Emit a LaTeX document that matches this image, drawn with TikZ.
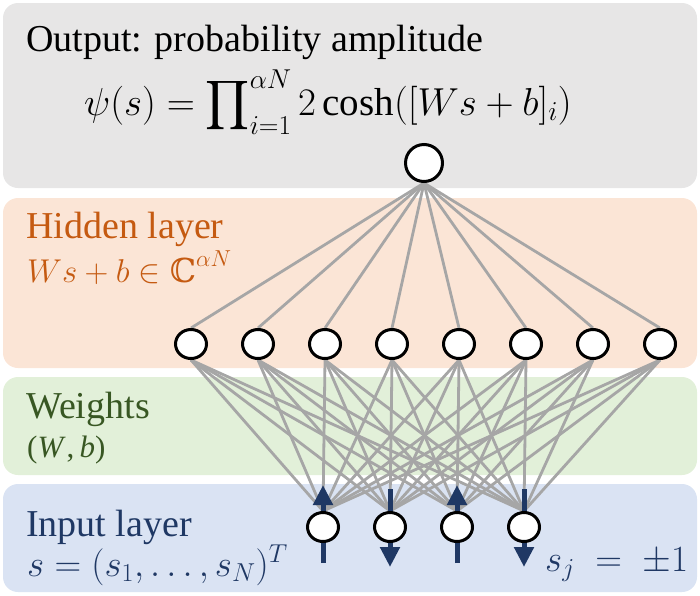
\RequirePackage{fix-cm}
\documentclass[tikz,border=0pt]{standalone}
\usepackage{amsmath}
\usepackage{fontspec}
\setmainfont{Liberation Serif}
\newfontfamily\dvserif{DejaVu Serif}
\usetikzlibrary{arrows.meta,shapes.geometric}
\pgfdeclarelayer{bg}\pgfdeclarelayer{edges}\pgfdeclarelayer{spins}
\pgfsetlayers{bg,edges,spins,main}
\definecolor{boxgray}{RGB}{231,230,230}
\definecolor{boxorange}{RGB}{251,229,214}
\definecolor{boxgreen}{RGB}{226,240,217}
\definecolor{boxblue}{RGB}{218,227,243}
\definecolor{txtorange}{RGB}{197,90,17}
\definecolor{txtgreen}{RGB}{56,87,35}
\definecolor{navy}{RGB}{31,56,100}
\definecolor{edgegray}{RGB}{166,166,166}
\newcommand{\bigprodop}{\mathop{\vcenter{\hbox{\resizebox*{44pt}{55pt}{$\displaystyle\prod$}}}}\nolimits}
\tikzset{
  layerbox/.style={rounded corners=15pt},
  outnode/.style={circle,draw=black,line width=3pt,fill=white,minimum size=37pt,inner sep=0pt},
  unit/.style={ellipse,draw=black,line width=3pt,fill=white,minimum width=31pt,minimum height=29pt,inner sep=0pt},
  edge/.style={draw=edgegray,line width=2.8pt},
  spin/.style={draw=navy,line width=5pt,-{Triangle[width=19pt,length=20pt]}},
  lbl/.style={anchor=base west,inner sep=0pt,font=\fontsize{38}{42}\selectfont},
  smalllbl/.style={anchor=base west,inner sep=0pt,font=\fontsize{31}{36}\selectfont},
}
\begin{document}
\begin{tikzpicture}[x=1pt,y=-1pt]
\useasboundingbox (0,0) rectangle (700,595);
\begin{pgfonlayer}{bg}
\fill[boxgray,layerbox] (3,3) rectangle (697,188);
\fill[boxorange,layerbox] (3,198) rectangle (697,368);
\fill[boxgreen,layerbox] (3,377) rectangle (697,475);
\fill[boxblue,layerbox] (3,484) rectangle (697,592);
\end{pgfonlayer}
% texts
\node[lbl] (t1) at (26,51) {Output: probability amplitude};
\node[lbl,font=\fontsize{39}{42}\selectfont,anchor=base west] (f1) at (84,115) {$\psi(s)=\bigprodop_{i=1}^{\alpha N}2\cosh([Ws+b]_i)$};
\node[lbl,text=txtorange] (t2) at (26,238) {Hidden layer};
\node[lbl,text=txtorange,font=\fontsize{33}{38}\selectfont,anchor=base west] (f2) at (27,282) {$Ws+b\in\mbox{\dvserif ℂ}^{\alpha N}$};
\node[lbl,text=txtgreen] (t3) at (26,418) {Weights};
\node[smalllbl,text=txtgreen] (f3) at (27,457) {(\textit{W}\kern1pt,\,\textit{b})};
\node[lbl,text=navy] (t4) at (26,536) {Input layer};
\node[lbl,text=navy,font=\fontsize{37}{40}\selectfont,anchor=base west] (f4) at (27,576) {$s=(s_1,\dots,s_N)^T$};
\node[lbl,text=navy,font=\fontsize{37}{42}\selectfont,anchor=base west] (f5) at (545,571) {$s_j\;=\;\pm1$};
% nodes
\node[outnode] (o) at (424,163) {};
\foreach \i in {1,...,8} \node[unit] (h\i) at ({191+67*(\i-1)},344) {};
\foreach \j in {1,...,4} \node[unit] (in\j) at ({323+67*(\j-1)},527) {};
\begin{pgfonlayer}{edges}
\foreach \i in {1,...,8} \draw[edge] (o.south) -- (h\i.north);
\foreach \i in {1,...,8} \foreach \j in {1,...,4} \draw[edge] (h\i.south) -- (in\j.north);
\end{pgfonlayer}
\begin{pgfonlayer}{spins}
\draw[spin] ([yshift=-36pt]in1.center) -- ([yshift=42pt]in1.center);
\draw[spin] ([yshift=38pt]in2.center) -- ([yshift=-40pt]in2.center);
\draw[spin] ([yshift=-36pt]in3.center) -- ([yshift=42pt]in3.center);
\draw[spin] ([yshift=38pt]in4.center) -- ([yshift=-40pt]in4.center);
\end{pgfonlayer}
\end{tikzpicture}
\end{document}
